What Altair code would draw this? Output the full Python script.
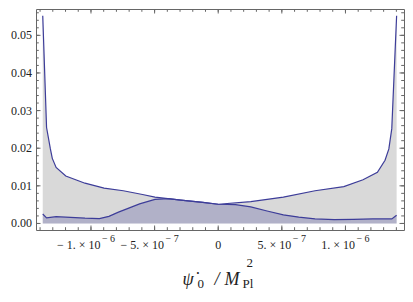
import altair as alt
import pandas as pd

# ---- data ----
upper_x = [-1.379e-6, -1.349e-6, -1.319e-6, -1.304e-6, -1.274e-6, -1.198e-6, -1.047e-6,
           -0.897e-6, -0.746e-6, -0.595e-6, -0.497e-6, -0.294e-6, -0.121e-6, 0.0,
           0.256e-6, 0.512e-6, 0.761e-6, 0.987e-6, 1.138e-6, 1.251e-6, 1.311e-6,
           1.341e-6, 1.364e-6, 1.402e-6]
upper_y = [0.0552, 0.0255, 0.0198, 0.0173, 0.0149, 0.0126, 0.0107,
           0.0094, 0.0087, 0.0077, 0.0070, 0.0062, 0.0056, 0.0051,
           0.0058, 0.0070, 0.0087, 0.0098, 0.0116, 0.0136, 0.0168,
           0.0198, 0.0252, 0.0552]

lower_x = [-1.379e-6, -1.349e-6, -1.274e-6, -1.161e-6, -1.047e-6, -0.934e-6, -0.859e-6,
           -0.784e-6, -0.708e-6, -0.618e-6, -0.497e-6, -0.392e-6, -0.294e-6, -0.121e-6,
           0.0, 0.136e-6, 0.256e-6, 0.384e-6, 0.512e-6, 0.633e-6, 0.761e-6, 0.912e-6,
           1.063e-6, 1.213e-6, 1.364e-6, 1.402e-6]
lower_y = [0.0025, 0.0015, 0.0018, 0.0016, 0.0014, 0.0013, 0.0019,
           0.0030, 0.0040, 0.0052, 0.0064, 0.0066, 0.0062, 0.0056,
           0.0051, 0.0050, 0.0044, 0.0033, 0.0023, 0.0017, 0.0012, 0.0010,
           0.0011, 0.0012, 0.0012, 0.0022]

y_tick_values = [0.0, 0.01, 0.02, 0.03, 0.04, 0.05]
y_tick_labels = ["0.00", "0.01", "0.02", "0.03", "0.04", "0.05"]
y_minor_values = [round(i * 0.002, 4) for i in range(0, 29)]

x_tick_values = [-1e-6, -5e-7, 5e-7, 1e-6]
x_tick_base = ["\u2212 1. \u00d7 10", "\u2212 5. \u00d7 10", "5. \u00d7 10", "1. \u00d7 10"]
x_tick_sup = ["\u2212 6", "\u2212 7", "\u2212 7", "\u2212 6"]
x_zero_value = [0.0]
x_zero_label = ["0"]
x_major_values = [-1e-6, -5e-7, 0.0, 5e-7, 1e-6]
x_minor_values = [round(i * 1e-7, 12) for i in range(-14, 15)]

# ---- layout ----
W, H = 368, 221
FONT = "'Liberation Serif', 'Times New Roman', 'DejaVu Serif', serif"
LINE = "#3d3d99"
FRAME = "#666666"
TXT = "#222222"

xs = alt.Scale(domain=[-1.432e-6, 1.46e-6], nice=False, zero=False)
ys = alt.Scale(domain=[-0.00174, 0.0570], nice=False, zero=False)

upper_df = pd.DataFrame({"x": upper_x, "y": upper_y, "base": 0.0})
lower_df = pd.DataFrame({"x": lower_x, "y": lower_y, "base": 0.0})

X = lambda f: alt.X(f, scale=xs, axis=None)
Y = lambda f: alt.Y(f, scale=ys, axis=None)

gray_area = alt.Chart(upper_df).mark_area(color="#d9d9d9").encode(
    x=X("x:Q"), y=Y("y:Q"), y2="base:Q")
blue_area = alt.Chart(lower_df).mark_area(color=LINE, opacity=0.25).encode(
    x=X("x:Q"), y=Y("y:Q"), y2="base:Q")
upper_line = alt.Chart(upper_df).mark_line(color=LINE, strokeWidth=1.2).encode(
    x=X("x:Q"), y=Y("y:Q"))
lower_line = alt.Chart(lower_df).mark_line(color=LINE, strokeWidth=1.2).encode(
    x=X("x:Q"), y=Y("y:Q"))

xmaj = pd.DataFrame({"t": x_major_values})
xmin = pd.DataFrame({"t": x_minor_values})
ymaj = pd.DataFrame({"t": y_tick_values})
ymin = pd.DataFrame({"t": y_minor_values})

def xticks(df, length):
    bottom = alt.Chart(df).mark_rule(color=FRAME, strokeWidth=1).encode(
        x=X("t:Q"), y=alt.value(H), y2=alt.value(H - length))
    top = alt.Chart(df).mark_rule(color=FRAME, strokeWidth=1).encode(
        x=X("t:Q"), y=alt.value(0), y2=alt.value(length))
    return [bottom, top]

def yticks(df, length):
    left = alt.Chart(df).mark_rule(color=FRAME, strokeWidth=1).encode(
        y=Y("t:Q"), x=alt.value(0), x2=alt.value(length))
    right = alt.Chart(df).mark_rule(color=FRAME, strokeWidth=1).encode(
        y=Y("t:Q"), x=alt.value(W), x2=alt.value(W - length))
    return [left, right]

ticks = xticks(xmin, 2.8) + xticks(xmaj, 4.5) + yticks(ymin, 2.8) + yticks(ymaj, 4.5)

ylab = alt.Chart(pd.DataFrame({"v": y_tick_values, "s": y_tick_labels})).mark_text(
    font=FONT, fontSize=12, color=TXT, align="right", baseline="middle").encode(
    y=Y("v:Q"), x=alt.value(-4), text="s:N")

xlab_df = pd.DataFrame({"v": x_tick_values, "b": x_tick_base, "p": x_tick_sup})
xlab_base = alt.Chart(xlab_df).mark_text(
    font=FONT, fontSize=12, color=TXT, align="right", baseline="alphabetic", dx=9.5).encode(
    x=X("v:Q"), y=alt.value(H + 19), text="b:N")
xlab_sup = alt.Chart(xlab_df).mark_text(
    font=FONT, fontSize=10, color=TXT, align="left", baseline="alphabetic", dx=11).encode(
    x=X("v:Q"), y=alt.value(H + 12), text="p:N")
xlab_zero = alt.Chart(pd.DataFrame({"v": x_zero_value, "s": x_zero_label})).mark_text(
    font=FONT, fontSize=12, color=TXT, align="center", baseline="alphabetic").encode(
    x=X("v:Q"), y=alt.value(H + 19), text="s:N")

def piece(s, x, y, size, italic):
    return alt.Chart(pd.DataFrame({"s": [s]})).mark_text(
        font=FONT, fontSize=size, color=TXT, align="left", baseline="alphabetic",
        fontStyle="italic" if italic else "normal").encode(
        x=alt.value(x), y=alt.value(y), text="s:N")

title = [
    piece("\u03c8\u0307", 146.5, H + 55, 18, True),
    piece("0", 161.5, H + 58, 13, False),
    piece("/", 178.5, H + 55, 18, True),
    piece("M", 188.5, H + 55, 18, True),
    piece("Pl", 206.5, H + 58, 13, False),
    piece("2", 210.5, H + 37, 13, False),
]

chart = alt.layer(
    gray_area, blue_area, upper_line, lower_line, *ticks,
    ylab, xlab_base, xlab_sup, xlab_zero, *title
).properties(
    width=W, height=H,
    padding={"left": 28, "top": 1, "right": 1, "bottom": 63},
    autosize=alt.AutoSizeParams(type="none"),
).configure_view(stroke=FRAME, strokeWidth=1)

chart.save("out.html", embed_options={"renderer": "svg", "actions": False})
